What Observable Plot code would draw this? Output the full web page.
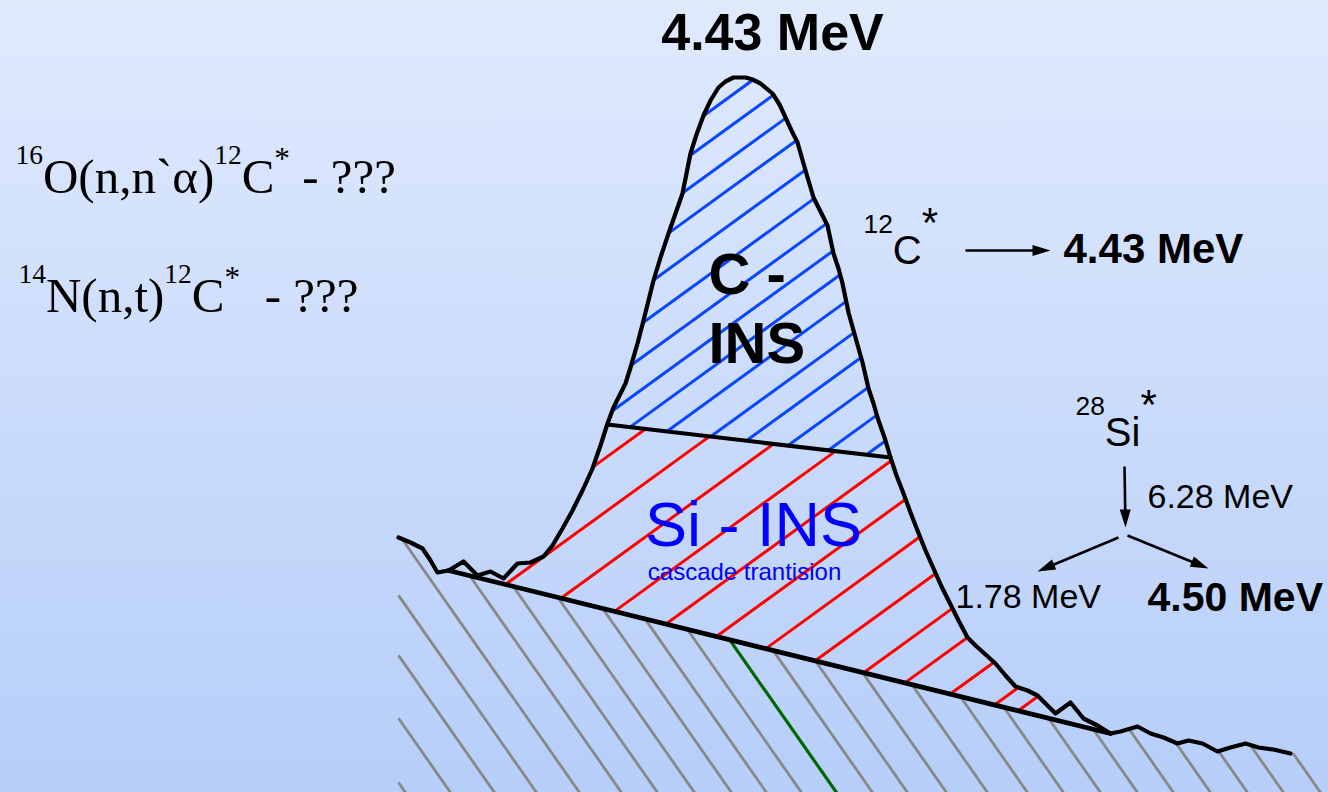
<!DOCTYPE html>
<html><head><meta charset="utf-8">
<script src="https://cdn.jsdelivr.net/npm/d3@7"></script>
<script src="https://cdn.jsdelivr.net/npm/@observablehq/plot@0.6"></script>
<style>
html,body{margin:0;padding:0;overflow:hidden;background:#cbdafb}
svg text{white-space:pre}
</style>
</head><body><div id="chart"></div>
<script>
// ---- schematic spectrum (x: channel position, y: depth from top) ----
const spectrumX = [398,410,422,430,437,448,463,477,490,503,517,530,543,552,562,572,582,592,600,607,613,620,625,630,637,643,648,653,660,668,675,682,686,690,696,703,710,718,725,733,745,752,760,772,779,785,791,797,805,813,820,827,833,838,842,848,855,862,868,873,877,885,890,896,903,910,917,925,933,941,950,958,967,975,985,995,1005,1015,1027,1037,1046,1055,1070,1083,1097,1110,1120,1137,1150,1163,1177,1188,1202,1217,1230,1245,1258,1273,1290];
const spectrumY = [537,542,548,560,572,570,561,575,571,578,563,562,556,545,528,510,490,468,445,423,407,393,383,367,343,320,300,280,257,233,213,193,173,153,134,115,100,87,81,77,77,79,83,93,104,117,130,142,170,197,211,225,253,268,283,312,337,362,388,403,417,440,457,475,493,512,530,550,568,586,604,620,637,645,654,663,675,686,690,695,704,713,702,718,725,733,731,726,733,737,743,740,743,751,747,743,747,749,753];
// background (continuum) line under the peak
const baselineX = [448, 1110];
const baselineY = [570, 733];
// split between C-INS and Si-INS parts of the peak
const dividerX = [607, 890];
const dividerY = [424, 457];
// hatch positions
const grayHatchBottom = [405,450,494,536,579,621,657,694,731,766,801,872,907,946,987,1027,1063,1100,1137,1173,1210,1247,1283,1320];
const greenHatchBottom = [836];
const blueHatchOffset = [625,655,687,717,753,788,822,854,883,914,951,981,1016,1050,1082];
const redHatchOffset = [896,950,1004,1056,1106,1155,1203,1251,1298,1338,1382,1425,1448];
// labels
const titleText = ["4.43 MeV"]; const titleX = [772]; const titleY = [49];
const boldText = ["4.43 MeV", "4.50 MeV"]; const boldX = [1063, 1147]; const boldY = [262, 610]; const boldSize = [42, 41];
const regionText = ["C -", "INS"]; const regionX = [708, 708]; const regionY = [293, 362];
const siText = ["Si - INS", "cascade trantision"]; const siX = [753, 744]; const siY = [545, 579]; const siSize = [63, 24];
const sansText = ["^{12}C^^{*}", "^{28}Si^^{*}", "6.28 MeV", "1.78 MeV"]; const sansX = [863, 1075, 1147, 955]; const sansY = [263, 445, 507, 607]; const sansSize = [40, 40, 34, 34];
const serifText = ["^{16}O(n,n`α)^{12}C^^{*} - ???", "^{14}N(n,t)^{12}C^^{*}  - ???"]; const serifX = [15, 18]; const serifY = [192, 311];
// decay arrows
const arrowX1 = [965, 1124, 1118, 1127];
const arrowY1 = [250, 466, 537, 535];
const arrowX2 = [1050, 1125, 1037, 1208];
const arrowY2 = [250, 527, 571, 568];

// ---------- geometry helpers ----------
const W = 1328, H = 792;
const spectrum = spectrumX.map((x, i) => ({x, y: spectrumY[i]}));
const pts = spectrum.map(d => [d.x, d.y]);
const iL = spectrumX.indexOf(baselineX[0]);
const iR = spectrumX.indexOf(baselineX[1]);
const peakPoly = pts.slice(iL, iR + 1);                       // closed by baseline
const grayPoly = [...pts.slice(0, iL + 1), ...pts.slice(iR), [1340, 753], [1340, 800], [spectrumX[0], 800]];
const cross = (a, b) => a[0] * b[1] - a[1] * b[0];
function clipLine(poly, A, D) {
  const ts = [];
  for (let i = 0; i < poly.length; i++) {
    const P = poly[i], Q = poly[(i + 1) % poly.length];
    const E = [Q[0] - P[0], Q[1] - P[1]];
    const den = cross(D, E);
    if (Math.abs(den) < 1e-12) continue;
    const w = [P[0] - A[0], P[1] - A[1]];
    const t = cross(w, E) / den, s = cross(w, D) / den;
    if (s >= 0 && s < 1) ts.push(t);
  }
  ts.sort((a, b) => a - b);
  const segs = [];
  for (let k = 0; k + 1 < ts.length; k += 2) {
    segs.push({x1: A[0] + ts[k] * D[0], y1: A[1] + ts[k] * D[1], x2: A[0] + ts[k + 1] * D[0], y2: A[1] + ts[k + 1] * D[1]});
  }
  return segs;
}
const divY = x => dividerY[0] + (dividerY[1] - dividerY[0]) * (x - dividerX[0]) / (dividerX[1] - dividerX[0]);
function halfPlane(seg, above) {
  const f0 = seg.y1 - divY(seg.x1), f1 = seg.y2 - divY(seg.x2);
  const keep = f => above ? f < 0 : f > 0;
  if (keep(f0) && keep(f1)) return [seg];
  if (!keep(f0) && !keep(f1)) return [];
  const t = f0 / (f0 - f1);
  const m = {x: seg.x1 + t * (seg.x2 - seg.x1), y: seg.y1 + t * (seg.y2 - seg.y1)};
  return keep(f0) ? [{x1: seg.x1, y1: seg.y1, x2: m.x, y2: m.y}] : [{x1: m.x, y1: m.y, x2: seg.x2, y2: seg.y2}];
}
const grayDir = [-0.7, -1];
const graySegs = grayHatchBottom.flatMap(b => clipLine(grayPoly, [b, H], grayDir));
const greenSegs = greenHatchBottom.flatMap(b => clipLine(grayPoly, [b, H], grayDir));
const upDir = [1, -0.725];
const blueSegs = blueHatchOffset.flatMap(b => clipLine(peakPoly, [0, b], upDir)).flatMap(s => halfPlane(s, true));
const redSegs = redHatchOffset.flatMap(b => clipLine(peakPoly, [0, b], upDir)).flatMap(s => halfPlane(s, false));

const baseline = baselineX.map((x, i) => ({x, y: baselineY[i]}));
const divider = dividerX.map((x, i) => ({x, y: dividerY[i]}));
const HEAD = 18, HALF = 5.5;
const arrows = arrowX1.map((x1, i) => {
  const x2 = arrowX2[i], y1 = arrowY1[i], y2 = arrowY2[i];
  const dx = x2 - x1, dy = y2 - y1, len = Math.hypot(dx, dy);
  return {x1, y1, x2: x2 - dx / len * HEAD * 0.6, y2: y2 - dy / len * HEAD * 0.6, tx: x2, ty: y2,
          angle: Math.atan2(dx, -dy) * 180 / Math.PI};
});
const headSymbol = {draw(ctx) { ctx.moveTo(0, 0); ctx.lineTo(HALF, HEAD); ctx.lineTo(-HALF, HEAD); ctx.closePath(); }};

const rows = (t, xs, ys, extra = {}) => t.map((text, i) => {
  const r = {text, x: xs[i], y: ys[i]};
  for (const k in extra) r[k] = extra[k][i];
  return r;
});
const sans = "Liberation Sans, Arial, Helvetica, sans-serif";
const serif = "Liberation Serif, Times New Roman, serif";

const chart = Plot.plot({
  width: W, height: H, margin: 0,
  x: {domain: [0, W], range: [0, W], axis: null},
  y: {domain: [0, H], range: [0, H], axis: null},
  style: {background: "linear-gradient(180deg, #e0eafd 0%, #b6cef9 100%)", overflow: "hidden", display: "block"},
  marks: [
    Plot.link(graySegs, {x1: "x1", y1: "y1", x2: "x2", y2: "y2", stroke: "#888888", strokeWidth: 2.8}),
    Plot.link(greenSegs, {x1: "x1", y1: "y1", x2: "x2", y2: "y2", stroke: "#006600", strokeWidth: 3.2}),
    Plot.link(redSegs, {x1: "x1", y1: "y1", x2: "x2", y2: "y2", stroke: "#ff0000", strokeWidth: 3}),
    Plot.link(blueSegs, {x1: "x1", y1: "y1", x2: "x2", y2: "y2", stroke: "#0a46ff", strokeWidth: 3}),
    Plot.line(baseline, {x: "x", y: "y", stroke: "black", strokeWidth: 4.8}),
    Plot.line(divider, {x: "x", y: "y", stroke: "black", strokeWidth: 4.2}),
    Plot.line(spectrum, {x: "x", y: "y", stroke: "black", strokeWidth: 4.2, strokeLinejoin: "round"}),
    Plot.link(arrows, {x1: "x1", y1: "y1", x2: "x2", y2: "y2", stroke: "black", strokeWidth: 2.6}),
    Plot.dot(arrows, {x: "tx", y: "ty", symbol: headSymbol, rotate: "angle", fill: "black", r: 5}),
    Plot.text(rows(titleText, titleX, titleY), {x: "x", y: "y", text: "text", fontSize: 52, fontWeight: "bold", fontFamily: sans, textAnchor: "middle", lineAnchor: "bottom", fill: "black"}),
    Plot.text(rows(boldText, boldX, boldY, {size: boldSize}), {x: "x", y: "y", text: "text", fontSize: "size", fontWeight: "bold", fontFamily: sans, textAnchor: "start", lineAnchor: "bottom", fill: "black"}),
    Plot.text(rows(regionText, regionX, regionY), {x: "x", y: "y", text: "text", fontSize: 58, fontWeight: "bold", fontFamily: sans, textAnchor: "start", lineAnchor: "bottom", fill: "black"}),
    Plot.text(rows(siText, siX, siY, {size: siSize}), {x: "x", y: "y", text: "text", fontSize: "size", fontFamily: sans, textAnchor: "middle", lineAnchor: "bottom", fill: "#0000ff"}),
    Plot.text(rows(sansText, sansX, sansY, {size: sansSize}), {x: "x", y: "y", text: "text", fontSize: "size", fontFamily: sans, textAnchor: "start", lineAnchor: "bottom", fill: "black"}),
    Plot.text(rows(serifText, serifX, serifY), {x: "x", y: "y", text: "text", fontSize: 49, fontFamily: serif, textAnchor: "start", lineAnchor: "bottom", fill: "black"})
  ]
});

// superscripts: ^{..} normal, ^^{..} asterisk
chart.querySelectorAll("text").forEach(t => {
  const s = t.textContent;
  if (!s.includes("^{")) return;
  const fs = parseFloat(t.closest("[font-size]").getAttribute("font-size"));
  const isSerif = (t.closest("[font-family]").getAttribute("font-family") || "").includes("Serif");
  const supScale = isSerif ? 0.56 : 0.66;
  const raise = isSerif ? 0.58 : 0.76;
  const starScale = isSerif ? 0.64 : 1.05;
  const starRaise = isSerif ? 0.48 : 0.66;
  const re = /(\^\^?)\{([^}]*)\}|([^^]+)/g;
  t.textContent = "";
  let cur = 0, m;
  while ((m = re.exec(s))) {
    const ts = document.createElementNS("http://www.w3.org/2000/svg", "tspan");
    let target, size;
    if (m[1] === "^^") { target = -starRaise * fs; size = starScale * fs; ts.textContent = m[2]; }
    else if (m[1]) { target = -raise * fs; size = supScale * fs; ts.textContent = m[2]; }
    else { target = 0; size = fs; ts.textContent = m[3]; }
    ts.setAttribute("dy", target - cur); cur = target;
    ts.setAttribute("font-size", size);
    t.appendChild(ts);
  }
});
document.getElementById("chart").appendChild(chart);
</script>
</body></html>
